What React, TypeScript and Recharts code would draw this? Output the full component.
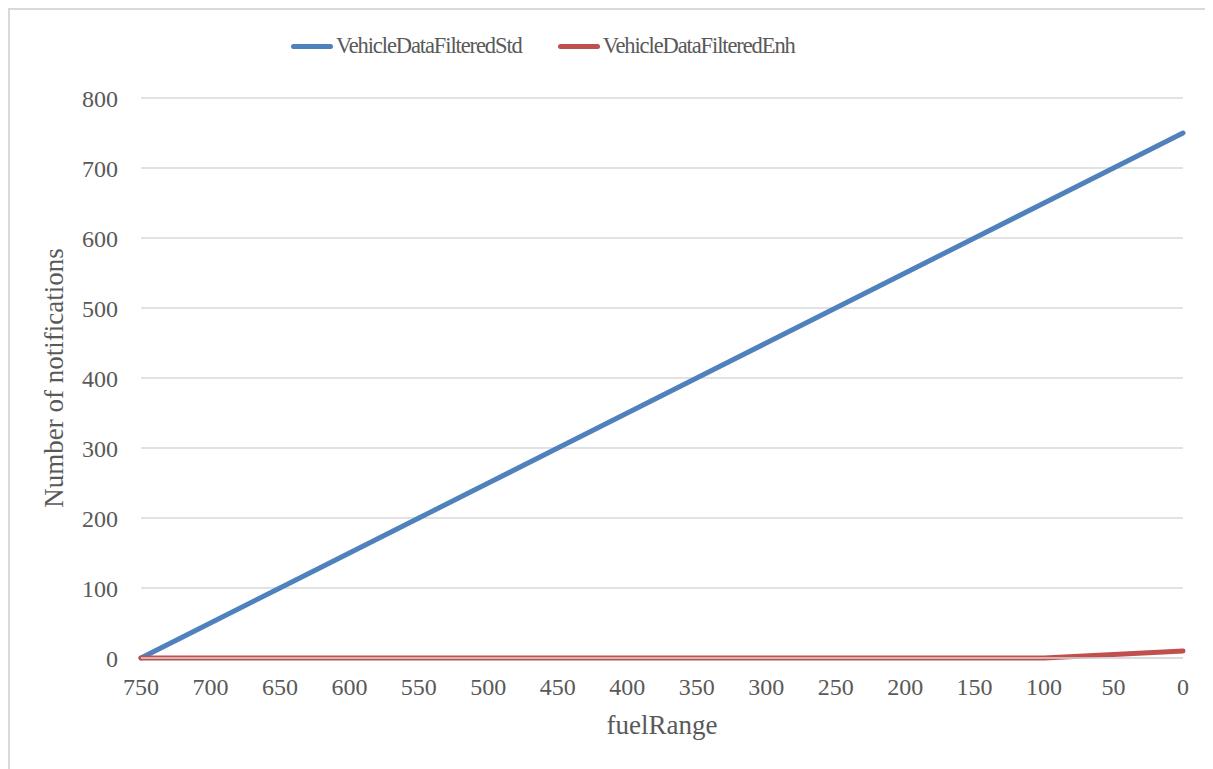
import React from "react";
import { LineChart, Line, XAxis, YAxis, CartesianGrid, Legend, Label } from "recharts";

const fuelRange = [750, 700, 650, 600, 550, 500, 450, 400, 350, 300, 250, 200, 150, 100, 50, 0];
const stdValues = [0, 50, 100, 150, 200, 250, 300, 350, 400, 450, 500, 550, 600, 650, 700, 750];
const enhValues = [0, 0, 0, 0, 0, 0, 0, 0, 0, 0, 0, 0, 0, 0, 5, 10];
const xTicks = [750, 700, 650, 600, 550, 500, 450, 400, 350, 300, 250, 200, 150, 100, 50, 0];
const yTicks = [0, 100, 200, 300, 400, 500, 600, 700, 800];

const data = fuelRange.map((x, i) => ({ fuelRange: x, std: stdValues[i], enh: enhValues[i] }));

const FONT = "'Liberation Serif', serif";
const TEXT = "#595959";
const BLUE = "#4F81BD";
const RED = "#C0504D";

const legendItems = [
  { name: "VehicleDataFilteredStd", color: BLUE },
  { name: "VehicleDataFilteredEnh", color: RED },
];

const LegendContent = () => (
  <div style={{ display: "flex", alignItems: "center", height: 24, lineHeight: "24px", paddingLeft: 281, fontFamily: FONT, fontSize: 22.5, letterSpacing: -1.1, color: TEXT }}>
    {legendItems.map((it, i) => (
      <div key={it.name} style={{ display: "flex", alignItems: "center", marginLeft: i === 0 ? 0 : 36 }}>
        <div style={{ width: 42, height: 5, borderRadius: 3, background: it.color, marginRight: 3 }} />
        <span>{it.name}</span>
      </div>
    ))}
  </div>
);

export default function App() {
  return (
    <div style={{ width: 1213, height: 769, borderLeft: "2px solid #d9d9d9", borderTop: "2px solid #d9d9d9", boxSizing: "border-box", background: "#fff" }}>
      <LineChart width={1211} height={767} data={data} margin={{ top: 64, right: 38, bottom: 59, left: 50 }}>
        <CartesianGrid vertical={false} stroke="#d9d9d9" strokeWidth={1.3} />
        <XAxis
          dataKey="fuelRange"
          type="number"
          domain={[0, 750]}
          reversed
          ticks={xTicks}
          interval={0}
          axisLine={{ stroke: "#d9d9d9", strokeWidth: 1.3 }}
          tickLine={false}
          tick={{ fill: TEXT, fontFamily: FONT, fontSize: 24 }}
          tickMargin={14}
          height={60}
        >
          <Label value="fuelRange" position="insideBottom" offset={-16} style={{ fill: TEXT, fontFamily: FONT, fontSize: 27 }} />
        </XAxis>
        <YAxis
          type="number"
          domain={[0, 800]}
          ticks={yTicks}
          interval={0}
          axisLine={false}
          tickLine={false}
          tick={{ fill: TEXT, fontFamily: FONT, fontSize: 24 }}
          tickMargin={17}
          width={81}
        >
          <Label value="Number of notifications" angle={-90} position="insideLeft" offset={-7} style={{ textAnchor: "middle", fill: TEXT, fontFamily: FONT, fontSize: 27 }} />
        </YAxis>
        <Legend verticalAlign="top" align="left" content={<LegendContent />} wrapperStyle={{ top: 24, left: 0, width: 1211 }} />
        <Line type="linear" dataKey="std" name="VehicleDataFilteredStd" stroke={BLUE} strokeWidth={5} strokeLinecap="round" dot={false} isAnimationActive={false} />
        <Line type="linear" dataKey="enh" name="VehicleDataFilteredEnh" stroke={RED} strokeWidth={5} strokeLinecap="round" dot={false} isAnimationActive={false} />
      </LineChart>
    </div>
  );
}
